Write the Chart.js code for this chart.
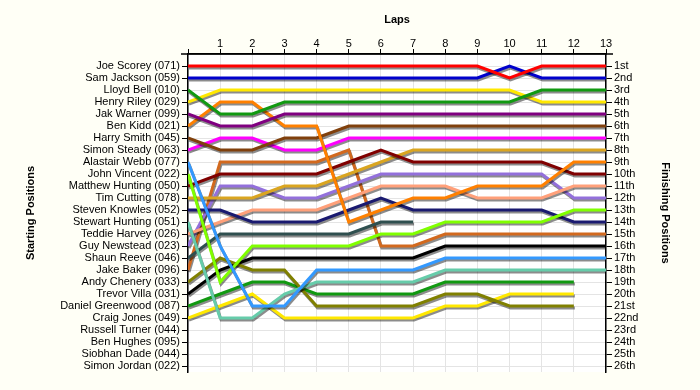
<!DOCTYPE html>
<html>
<head>
<meta charset="utf-8">
<script src="https://cdn.jsdelivr.net/npm/chart.js@4/dist/chart.umd.min.js"></script>
<style>
  html, body { margin: 0; padding: 0; background: #fffff6; }
  #wrap { width: 700px; height: 390px; position: relative; }
</style>
</head>
<body>
<div id="wrap"><canvas id="chart-laps"></canvas></div>
<script>
(function () {
  'use strict';

  // Lap numbers on the top axis (0 = grid / start).
  const laps = [0, 1, 2, 3, 4, 5, 6, 7, 8, 9, 10, 11, 12, 13];

  // Starting grid, row 1 to 26 (left axis).
  const startNames = [
    'Joe Scorey (071)', 'Sam Jackson (059)', 'Lloyd Bell (010)', 'Henry Riley (029)',
    'Jak Warner (099)', 'Ben Kidd (021)', 'Harry Smith (045)', 'Simon Steady (063)',
    'Alastair Webb (077)', 'John Vincent (022)', 'Matthew Hunting (050)', 'Tim Cutting (078)',
    'Steven Knowles (052)', 'Stewart Hunting (051)', 'Teddie Harvey (026)', 'Guy Newstead (023)',
    'Shaun Reeve (046)', 'Jake Baker (096)', 'Andy Chenery (033)', 'Trevor Villa (031)',
    'Daniel Greenwood (087)', 'Craig Jones (049)', 'Russell Turner (044)', 'Ben Hughes (095)',
    'Siobhan Dade (044)', 'Simon Jordan (022)',
  ];

  // Finishing places (right axis).
  const finishLabels = [
    '1st', '2nd', '3rd', '4th', '5th', '6th', '7th', '8th', '9th', '10th', '11th', '12th', '13th',
    '14th', '15th', '16th', '17th', '18th', '19th', '20th', '21st', '22nd', '23rd', '24th',
    '25th', '26th',
  ];

  // Position after each lap, one row per starter (null = no longer running).
  const positions = [
    [1, 1, 1, 1, 1, 1, 1, 1, 1, 1, 2, 1, 1, 1],
    [2, 2, 2, 2, 2, 2, 2, 2, 2, 2, 1, 2, 2, 2],
    [3, 5, 5, 4, 4, 4, 4, 4, 4, 4, 4, 3, 3, 3],
    [4, 3, 3, 3, 3, 3, 3, 3, 3, 3, 3, 4, 4, 4],
    [5, 6, 6, 5, 5, 5, 5, 5, 5, 5, 5, 5, 5, 5],
    [6, 4, 4, 6, 6, 14, 13, 12, 12, 11, 11, 11, 9, 9],
    [7, 8, 8, 7, 7, 6, 6, 6, 6, 6, 6, 6, 6, 6],
    [8, 7, 7, 8, 8, 7, 7, 7, 7, 7, 7, 7, 7, 7],
    [9, 16, 21, 21, 18, 18, 18, 18, 17, 17, 17, 17, 17, 17],
    [10, 19, 16, 16, 16, 16, 15, 15, 14, 14, 14, 14, 13, 13],
    [11, 10, 10, 10, 10, 9, 8, 9, 9, 9, 9, 9, 10, 10],
    [12, 12, 12, 11, 11, 10, 9, 8, 8, 8, 8, 8, 8, 8],
    [13, 13, 14, 14, 14, 13, 12, 13, 13, 13, 13, 13, 14, 14],
    [14, 22, 22, 20, 19, 19, 19, 19, 18, 18, 18, 18, 18, 18],
    [15, 14, 13, 13, 13, 12, 11, 11, 11, 12, 12, 12, 11, 11],
    [16, 11, 11, 12, 12, 11, 10, 10, 10, 10, 10, 10, 12, 12],
    [17, 15, 15, 15, 15, 15, 14, 14, null, null, null, null, null, null],
    [18, 9, 9, 9, 9, 8, 16, 16, 15, 15, 15, 15, 15, 15],
    [19, 17, 18, 18, 21, 21, 21, 21, 20, 20, 21, 21, 21, null],
    [20, 18, 17, 17, 17, 17, 17, 17, 16, 16, 16, 16, 16, 16],
    [21, 20, 19, 19, 20, 20, 20, 20, 19, 19, 19, 19, 19, null],
    [22, 21, 20, 22, 22, 22, 22, 22, 21, 21, 20, 20, 20, null],
  ];

  const lineColors = [
    '#ff0000', '#0000cc', '#119911', '#ffe800', '#800080', '#ff8000', '#80400c', '#ff00ff',
    '#3399ff', '#80ff00', '#800000', '#daa520', '#1a1a70', '#66ccaa', '#ffa07a', '#9370db',
    '#2f4f4f', '#d2691e', '#808000', '#000000', '#119911', '#ffe800',
  ];

  const rows = startNames.map((_, i) => i + 1);
  const GRID = '#e4e4e4';
  const FONT = { family: '"Liberation Sans", Arial, sans-serif', size: 11 };
  const TITLE_FONT = { family: '"Liberation Sans", Arial, sans-serif', size: 11, weight: 'bold' };

  Chart.defaults.color = '#000';

  // Cream page, white plot area.
  const background = {
    id: 'background',
    beforeDraw(chart) {
      const { ctx, chartArea: a } = chart;
      ctx.save();
      ctx.fillStyle = '#fffff6';
      ctx.fillRect(0, 0, chart.width, chart.height);
      ctx.fillStyle = '#ffffff';
      ctx.fillRect(a.left, a.top, a.right - a.left, a.bottom - a.top);
      ctx.restore();
    },
  };

  // The lap axis line runs a few pixels past both side axes.
  const axisOverhang = {
    id: 'axisOverhang',
    afterDraw(chart) {
      const { ctx, chartArea: a } = chart;
      ctx.save();
      ctx.strokeStyle = '#000';
      ctx.lineWidth = 1.5;
      ctx.beginPath();
      ctx.moveTo(a.left - 7, a.top);
      ctx.lineTo(a.right + 7, a.top);
      ctx.stroke();
      ctx.restore();
    },
  };

  // Grey drop shadow under every line.
  const lineShadow = {
    id: 'lineShadow',
    beforeDatasetDraw(chart) {
      const ctx = chart.ctx;
      ctx.save();
      ctx.shadowColor = 'rgba(0,0,0,0.45)';
      ctx.shadowOffsetX = 1;
      ctx.shadowOffsetY = 2;
      ctx.shadowBlur = 0;
    },
    afterDatasetDraw(chart) {
      chart.ctx.restore();
    },
  };

  const rowTicks = (scale) => {
    scale.ticks = rows.map((v) => ({ value: v }));
  };

  new Chart(document.getElementById('chart-laps'), {
    type: 'line',
    data: {
      datasets: positions.map((row, i) => ({
        label: startNames[i],
        data: laps.map((lap, j) => ({ x: lap, y: row[j] })),
        borderColor: lineColors[i],
        borderWidth: 3,
        pointRadius: 0,
        tension: 0,
        spanGaps: false,
        yAxisID: 'y',
      })),
    },
    options: {
      responsive: true,
      maintainAspectRatio: false,
      animation: false,
      layout: { padding: { left: 20, right: 24, top: 8, bottom: 18 } },
      plugins: {
        legend: { display: false },
        tooltip: { enabled: false },
      },
      scales: {
        x: {
          type: 'linear',
          position: 'top',
          min: 0,
          max: 13,
          afterBuildTicks: (scale) => {
            scale.ticks = laps.map((v) => ({ value: v }));
          },
          afterFit: (scale) => { scale.height = 46; },
          ticks: {
            font: FONT,
            padding: -2,
            maxRotation: 0,
            callback: (v) => (v === 0 ? '' : String(v)),
          },
          grid: { color: GRID, tickColor: '#000', tickLength: 5 },
          border: { color: '#000', width: 1.5 },
          title: { display: true, text: 'Laps', font: TITLE_FONT, padding: { top: 5, bottom: 0 } },
        },
        y: {
          type: 'linear',
          position: 'left',
          reverse: true,
          min: 0,
          max: 26.5,
          afterBuildTicks: rowTicks,
          afterFit: (scale) => { scale.width = 168; },
          ticks: {
            font: FONT,
            padding: 2,
            autoSkip: false,
            callback: (v) => startNames[v - 1] || '',
          },
          grid: { color: GRID, tickColor: '#000', tickLength: 6 },
          border: { color: '#000', width: 1.5 },
          title: { display: true, text: 'Starting Positions', font: TITLE_FONT, padding: { top: 4, bottom: 0 } },
        },
        y2: {
          type: 'linear',
          position: 'right',
          reverse: true,
          min: 0,
          max: 26.5,
          afterBuildTicks: rowTicks,
          afterFit: (scale) => { scale.width = 70; },
          ticks: {
            font: FONT,
            padding: 2,
            autoSkip: false,
            callback: (v) => finishLabels[v - 1] || '',
          },
          grid: { drawOnChartArea: false, tickColor: '#000', tickLength: 6 },
          border: { color: '#000', width: 1.5 },
          title: { display: true, text: 'Finishing Positions', font: TITLE_FONT, padding: { top: 4, bottom: 0 } },
        },
      },
    },
    plugins: [background, lineShadow, axisOverhang],
  });
})();
</script>
</body>
</html>
